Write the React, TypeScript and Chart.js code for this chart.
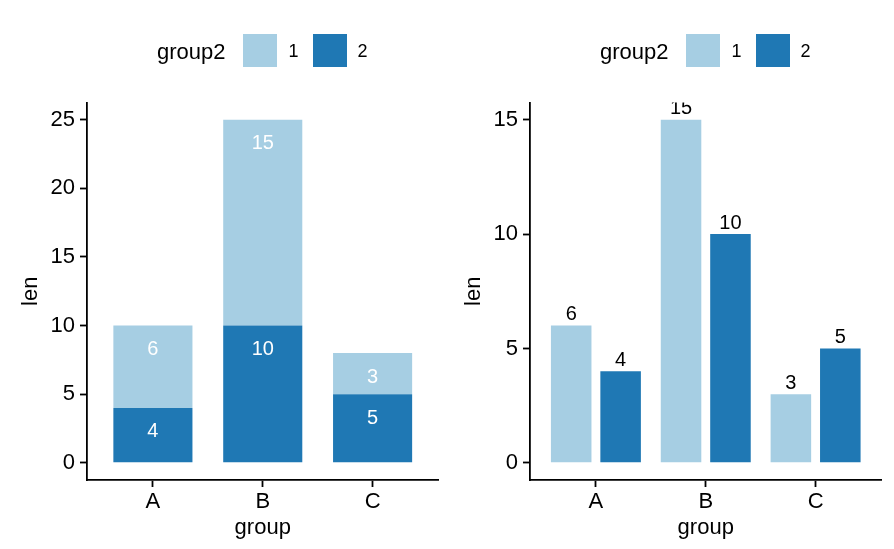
import React, { useEffect, useRef } from "react";
import { Chart, registerables } from "chart.js";

Chart.register(...registerables);

const categories = ["A", "B", "C"];
const seriesNames = ["1", "2"];
const series1 = [6, 15, 3]; // group2 = 1
const series2 = [4, 10, 5]; // group2 = 2
const stackedTicks = [0, 5, 10, 15, 20, 25];
const dodgedTicks = [0, 5, 10, 15];
const legendTitle = "group2";
const xTitle = "group";
const yTitle = "len";

const LIGHT = "#A6CEE3";
const DARK = "#1F78B4";
const FONT = '"Liberation Sans", Arial, Helvetica, sans-serif';

const labelPlugin = {
  id: "barLabels",
  afterDatasetsDraw(chart: any, _args: any, opts: any) {
    const { ctx, chartArea } = chart;
    ctx.save();
    ctx.beginPath();
    ctx.rect(chartArea.left, chartArea.top, chartArea.right - chartArea.left, chartArea.bottom - chartArea.top);
    ctx.clip();
    ctx.font = `20px ${FONT}`;
    ctx.textAlign = "center";
    chart.data.datasets.forEach((ds: any, di: number) => {
      const meta = chart.getDatasetMeta(di);
      meta.data.forEach((el: any, i: number) => {
        const v = ds.data[i].y;
        if (opts.inside) {
          ctx.fillStyle = "#ffffff";
          ctx.textBaseline = "middle";
          ctx.fillText(String(v), el.x, el.y + 24);
        } else {
          ctx.fillStyle = "#000000";
          ctx.textBaseline = "alphabetic";
          ctx.fillText(String(v), el.x, el.y - 5.5);
        }
      });
    });
    ctx.restore();
  },
};

function Panel({ mode, left }: { mode: "stack" | "dodge"; left: number }) {
  const ref = useRef<HTMLCanvasElement | null>(null);
  useEffect(() => {
    if (!ref.current) return;
    const isStack = mode === "stack";
    const d1 = series1.map((v, i) => ({ x: i, y: v }));
    const d2 = series2.map((v, i) => ({ x: i, y: v }));
    const datasets = isStack
      ? [
          { label: seriesNames[1], data: d2, backgroundColor: DARK },
          { label: seriesNames[0], data: d1, backgroundColor: LIGHT },
        ]
      : [
          { label: seriesNames[0], data: d1, backgroundColor: LIGHT },
          { label: seriesNames[1], data: d2, backgroundColor: DARK },
        ];
    const tickVals = isStack ? stackedTicks : dodgedTicks;
    const top = tickVals[tickVals.length - 1];
    const pad = top * 0.05;
    const border = { color: "#000", width: 1.8 };
    const chart = new Chart(ref.current, {
      type: "bar",
      data: { datasets: datasets as any },
      plugins: [labelPlugin as any],
      options: {
        responsive: false,
        animation: false,
        layout: { padding: { left: 0, top: 102.5, right: 8.5, bottom: 0 } },
        datasets: {
          bar: {
            categoryPercentage: isStack ? 1 : 0.9,
            barPercentage: isStack ? 0.72 : 0.82,
          },
        } as any,
        plugins: {
          legend: { display: false },
          tooltip: { enabled: false },
          barLabels: { inside: isStack },
        } as any,
        scales: {
          x: {
            type: "linear",
            offset: false,
            min: -0.6,
            max: 2.6,
            stacked: isStack,
            afterBuildTicks: (s: any) => {
              s.ticks = categories.map((_, i) => ({ value: i }));
            },
            afterFit: (s: any) => {
              s.height = 69;
            },
            ticks: {
              callback: (v: any) => categories[v as number] ?? "",
              font: { family: FONT, size: 22 },
              color: "#000",
              padding: 1.5,
              autoSkip: false,
              maxRotation: 0,
            },
            title: {
              display: true,
              text: xTitle,
              font: { family: FONT, size: 22, lineHeight: 1 },
              color: "#000",
              padding: { top: 0, bottom: 10 },
            },
            grid: {
              offset: false,
              drawOnChartArea: false,
              drawTicks: true,
              tickLength: 7,
              tickWidth: 1.8,
              tickColor: "#000",
            },
            border,
          } as any,
          y: {
            type: "linear",
            min: -pad,
            max: top + pad,
            stacked: isStack,
            afterBuildTicks: (s: any) => {
              s.ticks = tickVals.map((v) => ({ value: v }));
            },
            afterFit: (s: any) => {
              s.width = 87;
            },
            ticks: {
              font: { family: FONT, size: 22 },
              color: "#000",
              padding: 5,
            },
            title: {
              display: true,
              text: yTitle,
              font: { family: FONT, size: 22, lineHeight: 1 },
              color: "#000",
              padding: { top: 20, bottom: 0 },
            },
            grid: {
              drawOnChartArea: false,
              drawTicks: true,
              tickLength: 7,
              tickWidth: 1.8,
              tickColor: "#000",
            },
            border,
          } as any,
        },
      },
    });
    return () => chart.destroy();
  }, [mode]);

  const textStyle = (size: number, x: number, baseline: number): React.CSSProperties => ({
    position: "absolute",
    left: x,
    top: baseline - 0.8465 * size,
    fontFamily: FONT,
    fontSize: size,
    lineHeight: `${size}px`,
    color: "#000",
    whiteSpace: "nowrap",
  });
  const box = (x: number, color: string): React.CSSProperties => ({
    position: "absolute",
    left: x,
    top: 33.5,
    width: 34,
    height: 33,
    background: color,
  });
  const lx = mode === "stack" ? 157 : 600;
  return (
    <>
      <canvas
        ref={ref}
        width={447}
        height={549}
        style={{ position: "absolute", left, top: 0, width: 447, height: 549 }}
      />
      <span style={textStyle(22, lx, 59.5)}>{legendTitle}</span>
      <div style={box(lx + 86, LIGHT)} />
      <span style={textStyle(18, lx + 131.5, 57.3)}>{seriesNames[0]}</span>
      <div style={box(lx + 156, DARK)} />
      <span style={textStyle(18, lx + 200.5, 57.3)}>{seriesNames[1]}</span>
    </>
  );
}

export default function App() {
  return (
    <div
      style={{
        position: "fixed",
        left: 0,
        top: 0,
        width: 894,
        height: 549,
        background: "#fff",
        overflow: "hidden",
      }}
    >
      <Panel mode="stack" left={0} />
      <Panel mode="dodge" left={442.5} />
    </div>
  );
}
